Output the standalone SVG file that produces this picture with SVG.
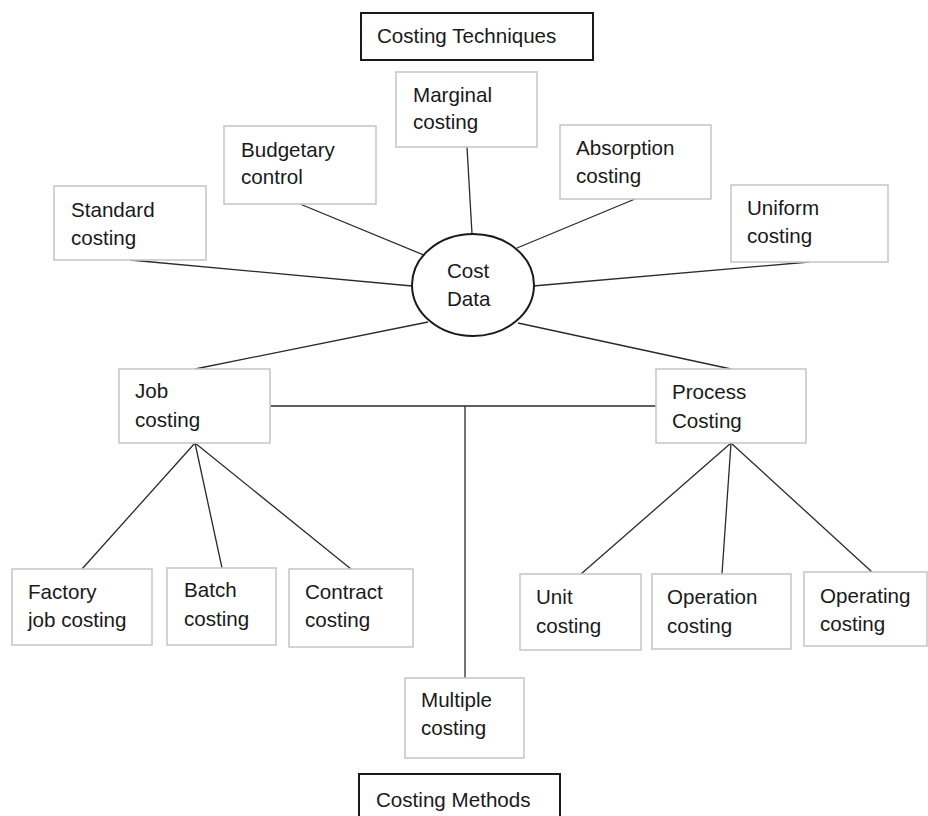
<svg xmlns="http://www.w3.org/2000/svg" width="928" height="816" viewBox="0 0 928 816">
<style>
.bg{fill:#ffffff}
.node rect{fill:#ffffff;stroke:#c8c8c8;stroke-width:1.6}
.title rect{fill:#ffffff;stroke:#1a1a1a;stroke-width:2}
.hub ellipse{fill:#ffffff;stroke:#1a1a1a;stroke-width:2}
text{font-family:"Liberation Sans","Open Sans",Arial,sans-serif;font-size:20.6px;fill:#1a1a1a}
.links line{stroke:#2a2a2a;stroke-width:1.3;fill:none}
</style>
<rect class="bg" x="0" y="0" width="928" height="816"/>
<g class="links" id="connectors">
<line x1="130" y1="260" x2="412" y2="286"/>
<line x1="300" y1="204" x2="431" y2="258"/>
<line x1="467" y1="147" x2="472" y2="234"/>
<line x1="635" y1="199" x2="517" y2="248"/>
<line x1="809" y1="262" x2="533" y2="286"/>
<line x1="195" y1="369" x2="428" y2="322"/>
<line x1="731" y1="369" x2="518" y2="323"/>
<line x1="270" y1="406" x2="656" y2="406"/>
<line x1="465" y1="406" x2="465" y2="678"/>
<line x1="195" y1="443" x2="82" y2="569"/>
<line x1="195" y1="443" x2="222" y2="568"/>
<line x1="195" y1="443" x2="351" y2="569"/>
<line x1="731" y1="443" x2="581" y2="574"/>
<line x1="731" y1="443" x2="722" y2="574"/>
<line x1="731" y1="443" x2="872" y2="572"/>
</g>
<g class="title" id="costing-techniques">
<rect x="361" y="13" width="232" height="47"/>
<text x="377" y="43">Costing Techniques</text>
</g>
<g class="node" id="marginal-costing">
<rect x="396" y="72" width="141" height="75"/>
<text x="413" y="102">Marginal</text>
<text x="413" y="129">costing</text>
</g>
<g class="node" id="budgetary-control">
<rect x="224" y="126" width="152" height="78"/>
<text x="241" y="157">Budgetary</text>
<text x="241" y="184">control</text>
</g>
<g class="node" id="absorption-costing">
<rect x="560" y="125" width="151" height="74"/>
<text x="576" y="155">Absorption</text>
<text x="576" y="183">costing</text>
</g>
<g class="node" id="standard-costing">
<rect x="54" y="186" width="152" height="74"/>
<text x="71" y="217">Standard</text>
<text x="71" y="245">costing</text>
</g>
<g class="node" id="uniform-costing">
<rect x="731" y="185" width="157" height="77"/>
<text x="747" y="215">Uniform</text>
<text x="747" y="243">costing</text>
</g>
<g class="hub" id="cost-data">
<ellipse cx="473" cy="285" rx="61" ry="51"/>
<text x="447" y="278">Cost</text>
<text x="447" y="306">Data</text>
</g>
<g class="node" id="job-costing">
<rect x="119" y="369" width="151" height="74"/>
<text x="135" y="398">Job</text>
<text x="135" y="427">costing</text>
</g>
<g class="node" id="process-costing">
<rect x="656" y="369" width="150" height="74"/>
<text x="672" y="399">Process</text>
<text x="672" y="428">Costing</text>
</g>
<g class="node" id="factory-job-costing">
<rect x="12" y="569" width="140" height="76"/>
<text x="28" y="599">Factory</text>
<text x="28" y="627">job costing</text>
</g>
<g class="node" id="batch-costing">
<rect x="167" y="568" width="109" height="77"/>
<text x="184" y="597">Batch</text>
<text x="184" y="626">costing</text>
</g>
<g class="node" id="contract-costing">
<rect x="289" y="569" width="124" height="78"/>
<text x="305" y="599">Contract</text>
<text x="305" y="627">costing</text>
</g>
<g class="node" id="unit-costing">
<rect x="520" y="574" width="121" height="76"/>
<text x="536" y="604">Unit</text>
<text x="536" y="633">costing</text>
</g>
<g class="node" id="operation-costing">
<rect x="652" y="574" width="139" height="75"/>
<text x="667" y="604">Operation</text>
<text x="667" y="633">costing</text>
</g>
<g class="node" id="operating-costing">
<rect x="804" y="572" width="123" height="74"/>
<text x="820" y="603">Operating</text>
<text x="820" y="631">costing</text>
</g>
<g class="node" id="multiple-costing">
<rect x="405" y="678" width="119" height="80"/>
<text x="421" y="707">Multiple</text>
<text x="421" y="735">costing</text>
</g>
<g class="title" id="costing-methods">
<rect x="359" y="774" width="201" height="50"/>
<text x="376" y="807">Costing Methods</text>
</g>
</svg>
